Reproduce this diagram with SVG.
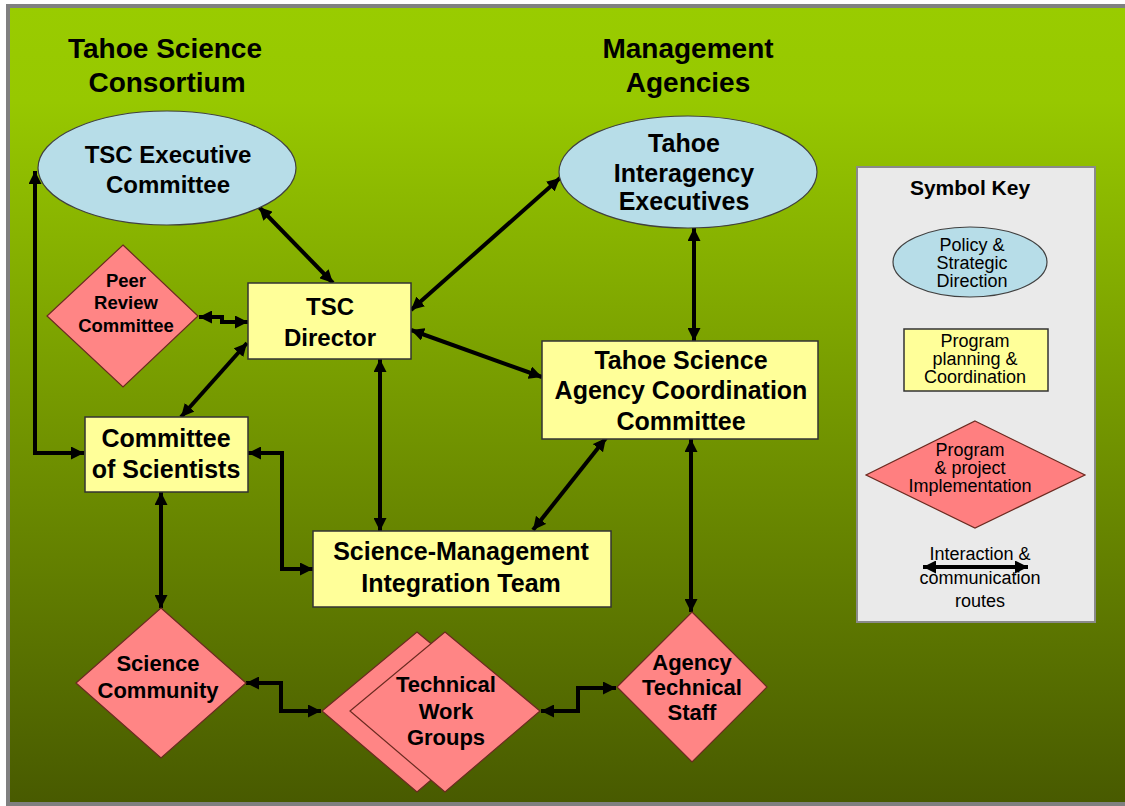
<svg xmlns="http://www.w3.org/2000/svg" width="1125" height="806" viewBox="0 0 1125 806">
<defs>
<linearGradient id="bg" x1="0" y1="0" x2="0" y2="1">
<stop offset="0" stop-color="#99CC00"/>
<stop offset="0.12" stop-color="#97C800"/>
<stop offset="1" stop-color="#485A00"/>
</linearGradient>
<marker id="ah" viewBox="0 0 10 10" refX="10" refY="5" markerWidth="13" markerHeight="13" orient="auto-start-reverse" markerUnits="userSpaceOnUse">
<path d="M0,0 L10,5 L0,10 z" fill="#000"/>
</marker>
<style>
text{font-family:"Liberation Sans",Arial,sans-serif;fill:#000;text-anchor:middle}
.b{font-weight:bold}
.h{font-size:28px;font-weight:bold}
.n24{font-size:24px;font-weight:bold}
.n25{font-size:25px;font-weight:bold}
.n22{font-size:22px;font-weight:bold}
.n18{font-size:18.5px;font-weight:bold}
.k{font-size:18px}
.ell{fill:#B7DDE8;stroke:#404040;stroke-width:1.2}
.box{fill:#FFFF99;stroke:#333;stroke-width:1.5}
.dia{fill:#FF8585;stroke:#6B2A20;stroke-width:1.2}
.c{fill:none;stroke:#000;stroke-width:4;marker-start:url(#ah);marker-end:url(#ah)}
</style>
</defs>
<rect x="8" y="6" width="1125" height="798" fill="url(#bg)" stroke="#808080" stroke-width="4"/>

<g id="titles">
<text class="h" x="165" y="58">Tahoe Science</text>
<text class="h" x="167" y="92">Consortium</text>
<text class="h" x="688" y="58">Management</text>
<text class="h" x="688" y="92">Agencies</text>
</g>

<g id="connectors">
<path class="c" d="M35,171 V453 H84"/>
<path class="c" d="M259,207 L333,283"/>
<path class="c" d="M199,317 H222 V322 H248"/>
<path class="c" d="M247,343 L181,417"/>
<path class="c" d="M411,310 L560,178"/>
<path class="c" d="M411,330 L542,377"/>
<path class="c" d="M694,228 V341"/>
<path class="c" d="M380,359 V531"/>
<path class="c" d="M248,453 H282 V569 H313"/>
<path class="c" d="M606,438 L533,530"/>
<path class="c" d="M161,492 V608"/>
<path class="c" d="M691,439 V612"/>
<path class="c" d="M246,683 H281 V711 H321"/>
<path class="c" d="M541,711 H578 V688 H616"/>
</g>

<g id="tsc-exec">
<ellipse class="ell" cx="167" cy="168" rx="129" ry="57"/>
<text class="n24" x="168" y="163">TSC Executive</text>
<text class="n24" x="168" y="193">Committee</text>
</g>

<g id="tie">
<ellipse class="ell" cx="688" cy="172" rx="129" ry="56"/>
<text class="n25" x="684" y="152">Tahoe</text>
<text class="n25" x="684" y="182">Interagency</text>
<text class="n25" x="684" y="210">Executives</text>
</g>

<g id="peer-review">
<polygon class="dia" points="123,245 198,316 123,387 47,316"/>
<text class="n18" x="126" y="287">Peer</text>
<text class="n18" x="126" y="309">Review</text>
<text class="n18" x="126" y="332">Committee</text>
</g>

<g id="tsc-director">
<rect class="box" x="248" y="283" width="163" height="76"/>
<text class="n24" x="330" y="315">TSC</text>
<text class="n24" x="330" y="346">Director</text>
</g>

<g id="cos">
<rect class="box" x="85" y="417" width="163" height="75"/>
<text class="n25" x="166" y="447">Committee</text>
<text class="n25" x="166" y="478">of Scientists</text>
</g>

<g id="tsacc">
<rect class="box" x="542" y="341" width="276" height="98"/>
<text class="n25" x="681" y="369">Tahoe Science</text>
<text class="n25" x="681" y="399">Agency Coordination</text>
<text class="n25" x="681" y="430">Committee</text>
</g>

<g id="smit">
<rect class="box" x="313" y="531" width="298" height="76"/>
<text class="n25" x="461" y="560">Science-Management</text>
<text class="n25" x="461" y="592">Integration Team</text>
</g>

<g id="science-community">
<polygon class="dia" points="161,608 246,683 161,758 76,683"/>
<text class="n22" x="158" y="671">Science</text>
<text class="n22" x="158" y="698">Community</text>
</g>

<g id="twg">
<polygon class="dia" points="417,632 512,711 417,792 322,711"/>
<polygon class="dia" points="445,632 540,711 445,792 350,711"/>
<text class="n22" x="446" y="692">Technical</text>
<text class="n22" x="446" y="719">Work</text>
<text class="n22" x="446" y="745">Groups</text>
</g>

<g id="ats">
<polygon class="dia" points="692,612 767,687 692,762 617,687"/>
<text class="n22" x="692" y="670">Agency</text>
<text class="n22" x="692" y="695">Technical</text>
<text class="n22" x="692" y="720">Staff</text>
</g>

<g id="symbol-key">
<rect x="857" y="167" width="238" height="455" fill="#EAEAEA" stroke="#8A8A8A" stroke-width="2"/>
<text class="n22" x="970" y="195" style="font-size:21px">Symbol Key</text>
<ellipse class="ell" cx="970" cy="262" rx="77" ry="35"/>
<text class="k" x="972" y="251">Policy &amp;</text>
<text class="k" x="972" y="269">Strategic</text>
<text class="k" x="972" y="287">Direction</text>
<rect class="box" x="904" y="329" width="144" height="62"/>
<text class="k" x="975" y="347">Program</text>
<text class="k" x="975" y="365">planning &amp;</text>
<text class="k" x="975" y="383">Coordination</text>
<polygon class="dia" points="975,421 1085,475 975,528 866,475" style="fill:#FF7F80"/>
<text class="k" x="970" y="456">Program</text>
<text class="k" x="970" y="474">&amp; project</text>
<text class="k" x="970" y="492">Implementation</text>
<path class="c" d="M923,567 H1028"/>
<text class="k" x="980" y="560">Interaction &amp;</text>
<text class="k" x="980" y="584">communication</text>
<text class="k" x="980" y="607">routes</text>
</g>
</svg>
